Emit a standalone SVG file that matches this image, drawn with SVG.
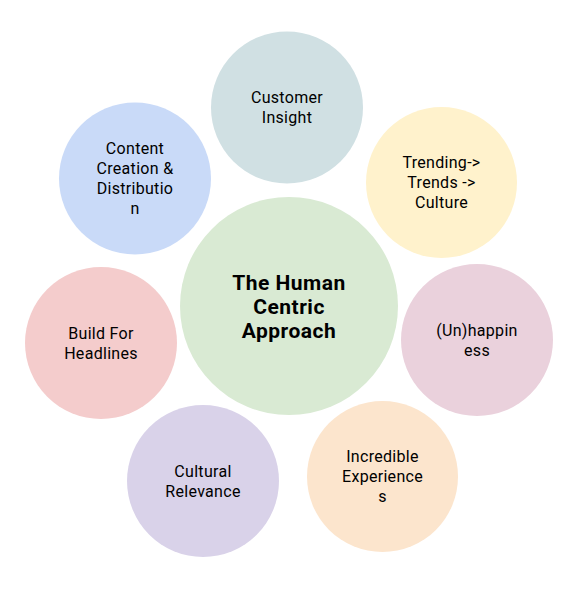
<svg xmlns="http://www.w3.org/2000/svg" width="579" height="597" viewBox="0 0 579 597">
<style>
.t{font-family:Roboto,"Open Sans",sans-serif;font-size:16px;letter-spacing:0.3px;fill:#000;text-anchor:middle}
.c{font-family:Roboto,"Open Sans",sans-serif;font-size:21px;letter-spacing:0.5px;font-weight:bold;fill:#000;text-anchor:middle}
</style>
<rect width="579" height="597" fill="#fff"/>
<g id="connectors"/>
<g id="center"><circle cx="289" cy="306" r="109" fill="#d9ead3"/>
<text class="c" x="289" y="290">The Human</text><text class="c" x="289" y="314">Centric</text><text class="c" x="289" y="338">Approach</text></g>
<g id="customer-insight"><circle cx="287" cy="107.5" r="76" fill="#d0e0e3"/>
<text class="t" x="287" y="103">Customer</text><text class="t" x="287" y="123">Insight</text></g>
<g id="trending"><circle cx="441.5" cy="182.5" r="75.5" fill="#fff2cc"/>
<text class="t" x="441.5" y="168">Trending-&gt;</text><text class="t" x="441.5" y="188">Trends -&gt;</text><text class="t" x="441.5" y="208">Culture</text></g>
<g id="unhappiness"><circle cx="477" cy="340" r="76" fill="#ead1dc"/>
<text class="t" x="477" y="336">(Un)happin</text><text class="t" x="477" y="356">ess</text></g>
<g id="incredible-experiences"><circle cx="382.5" cy="476.5" r="75.5" fill="#fce5cd"/>
<text class="t" x="382.5" y="462">Incredible</text><text class="t" x="382.5" y="482">Experience</text><text class="t" x="382.5" y="502">s</text></g>
<g id="cultural-relevance"><circle cx="203" cy="481" r="76" fill="#d9d2e9"/>
<text class="t" x="203" y="477">Cultural</text><text class="t" x="203" y="497">Relevance</text></g>
<g id="build-for-headlines"><circle cx="101" cy="343" r="76" fill="#f4cccc"/>
<text class="t" x="101" y="339">Build For</text><text class="t" x="101" y="359">Headlines</text></g>
<g id="content-creation"><circle cx="135" cy="178.5" r="76" fill="#c9daf8"/>
<text class="t" x="135" y="154">Content</text><text class="t" x="135" y="174">Creation &amp;</text><text class="t" x="135" y="194">Distributio</text><text class="t" x="135" y="214">n</text></g>
</svg>
